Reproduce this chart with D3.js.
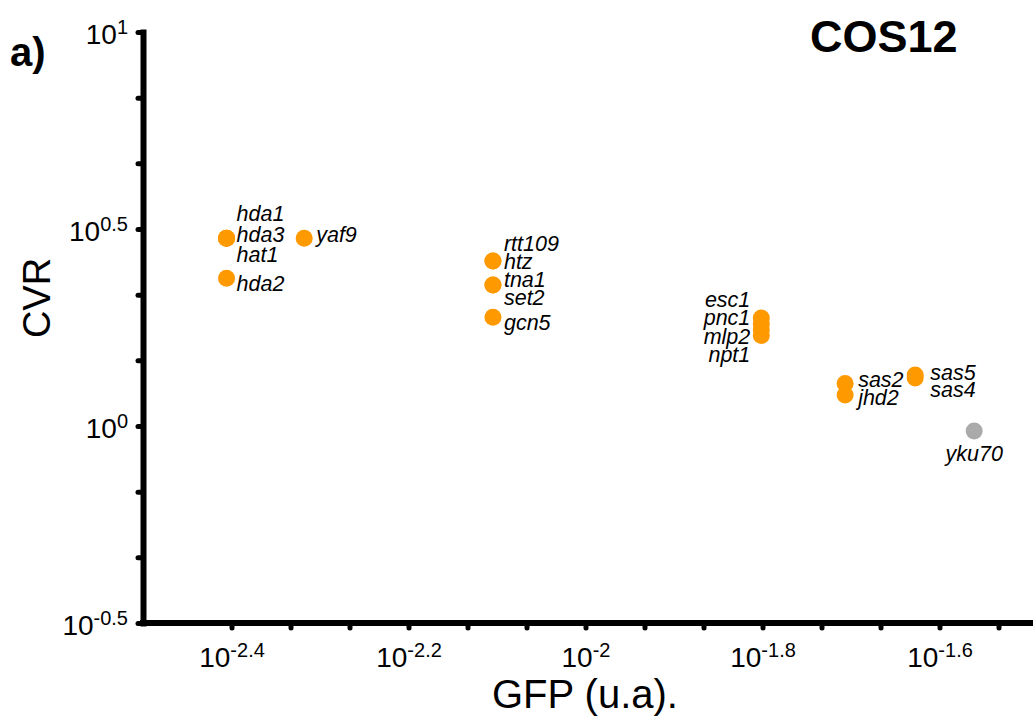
<!DOCTYPE html>
<html>
<head>
<meta charset="utf-8">
<script src="https://cdn.jsdelivr.net/npm/d3@7"></script>
<style>
  html, body { margin: 0; padding: 0; background: #fff; }
  svg { display: block; font-family: "Liberation Sans", Arial, Helvetica, sans-serif; }
</style>
</head>
<body>
<svg id="chart" width="1033" height="720"></svg>
<script>
// Mutants with their GFP signal (u.a.) and CVR
const genes = ["hda1", "hda3", "hat1", "hda2", "yaf9", "rtt109", "htz", "tna1", "set2", "gcn5",
               "esc1", "pnc1", "mlp2", "npt1", "sas2", "jhd2", "sas5", "sas4", "yku70"];
const gfp = [0.00393, 0.00393, 0.00393, 0.00393, 0.00481, 0.00786, 0.00786, 0.00786, 0.00786, 0.00786,
             0.0158, 0.0158, 0.0158, 0.0158, 0.01965, 0.01965, 0.02358, 0.02358, 0.02749];
const cvr = [2.995, 2.995, 2.995, 2.371, 2.995, 2.623, 2.623, 2.280, 2.280, 1.888,
             1.880, 1.815, 1.753, 1.697, 1.282, 1.199, 1.347, 1.324, 0.971];
const kind = ["mutant", "mutant", "mutant", "mutant", "mutant", "mutant", "mutant", "mutant", "mutant", "mutant",
              "mutant", "mutant", "mutant", "mutant", "mutant", "mutant", "mutant", "mutant", "control"];

// Axis tick labels (powers of ten)
const xTickExponents = ["-2.4", "-2.2", "-2", "-1.8", "-1.6"];
const yTickExponents = ["-0.5", "0", "0.5", "1"];

// How gene names are stacked beside their points
const labelLayout = [
  { genes: ["hda1", "hda3", "hat1"], side: "right", dx: 10, dy: 3.5, lead: 20.5 },
  { genes: ["hda2"], side: "right", dx: 10, dy: 13 },
  { genes: ["yaf9"], side: "right", dx: 12, dy: 3.5 },
  { genes: ["rtt109", "htz", "tna1", "set2"], side: "right", dx: 11, dy: 5, lead: 18 },
  { genes: ["gcn5"], side: "right", dx: 11, dy: 12.5 },
  { genes: ["esc1", "pnc1", "mlp2", "npt1"], side: "left", dx: 11, dy: 7.5, lead: 18.3 },
  { genes: ["sas2", "jhd2"], side: "right", dx: 13, dy: 6.5, lead: 18.3 },
  { genes: ["sas5", "sas4"], side: "right", dx: 15, dy: 12, lead: 17.5 },
  { genes: ["yku70"], side: "below", dy: 30 }
];

const colors = { mutant: "#ff9900", control: "#aaaaaa" };

const svg = d3.select("#chart");
const plotLeft = 143, plotRight = 1028, plotTop = 32, plotBottom = 623;

const x = d3.scaleLog().domain([Math.pow(10, -2.5), Math.pow(10, -1.5)]).range([plotLeft, plotRight]);
const y = d3.scaleLog().domain([Math.pow(10, -0.5), Math.pow(10, 1)]).range([plotBottom, plotTop]);

const xTicks = d3.range(0, 14).map(k => Math.pow(10, -2.4 + k / 15));
const yTicks = d3.range(0, 10).map(k => Math.pow(10, -0.5 + k / 6));
const xLabelled = new Map(xTickExponents.map(e => [Math.pow(10, +e).toPrecision(6), e]));
const yLabelled = new Map(yTickExponents.map(e => [Math.pow(10, +e).toPrecision(6), e]));

function powerLabel(sel, lookup) {
  sel.each(function (d) {
    const e = lookup.get(d.toPrecision(6));
    const t = d3.select(this).text(null);
    if (e === undefined) return;
    t.append("tspan").attr("font-size", 28).text("10");
    t.append("tspan").attr("font-size", 20).attr("dy", -10).text(e);
  });
}

function styleAxis(g) {
  g.select(".domain").attr("stroke", "#000").attr("stroke-width", 6).attr("stroke-linecap", "square");
  g.selectAll(".tick line").attr("stroke", "#000").attr("stroke-width", 5).attr("stroke-linecap", "round");
  g.selectAll(".tick text").attr("fill", "#000").attr("font-family", null);
}

// Y axis
const gy = svg.append("g")
  .attr("transform", `translate(${plotLeft},0)`)
  .call(d3.axisLeft(y).tickValues(yTicks).tickSize(5).tickSizeOuter(0).tickPadding(10));
styleAxis(gy);
gy.selectAll(".tick text").attr("dy", 11).call(powerLabel, yLabelled);

// X axis
const gx = svg.append("g")
  .attr("transform", `translate(0,${plotBottom})`)
  .call(d3.axisBottom(x).tickValues(xTicks).tickSize(5).tickSizeOuter(0));
styleAxis(gx);
gx.selectAll(".tick text").attr("y", 44).attr("dy", 0).call(powerLabel, xLabelled);
gx.select(".domain").attr("d", `M${plotLeft},0H${plotRight + 2}`);

// Points
const rows = genes.map((g, i) => ({ gene: g, gfp: gfp[i], cvr: cvr[i], kind: kind[i] }));
svg.append("g").selectAll("circle")
  .data(rows)
  .join("circle")
  .attr("cx", d => x(d.gfp))
  .attr("cy", d => y(d.cvr))
  .attr("r", 8.5)
  .attr("fill", d => colors[d.kind]);

// Gene labels
const byGene = new Map(rows.map(d => [d.gene, d]));
const labels = svg.append("g")
  .attr("font-size", 21.5)
  .attr("font-style", "italic")
  .attr("fill", "#000");
labelLayout.forEach(grp => {
  const pts = grp.genes.map(g => byGene.get(g));
  const cx = x(pts[0].gfp);
  const cy = d3.mean(pts, p => y(p.cvr));
  const n = pts.length, lead = grp.lead || 0;
  pts.forEach((p, i) => {
    const by = cy + grp.dy + (i - (n - 1) / 2) * lead;
    let tx = cx, anchor = "middle";
    if (grp.side === "right") { tx = cx + grp.dx; anchor = "start"; }
    if (grp.side === "left") { tx = cx - grp.dx; anchor = "end"; }
    labels.append("text").attr("x", tx).attr("y", by).attr("text-anchor", anchor).text(p.gene);
  });
});

// Axis titles and panel marks
svg.append("text")
  .attr("transform", "translate(50,298) rotate(-90)")
  .attr("text-anchor", "middle")
  .attr("font-size", 38)
  .text("CVR");
svg.append("text")
  .attr("x", 585).attr("y", 708)
  .attr("text-anchor", "middle")
  .attr("font-size", 40)
  .text("GFP (u.a).");
svg.append("text")
  .attr("x", 10).attr("y", 66)
  .attr("font-size", 40).attr("font-weight", "bold")
  .text("a)");
svg.append("text")
  .attr("x", 810).attr("y", 52)
  .attr("font-size", 45).attr("font-weight", "bold")
  .text("COS12");
</script>
</body>
</html>
